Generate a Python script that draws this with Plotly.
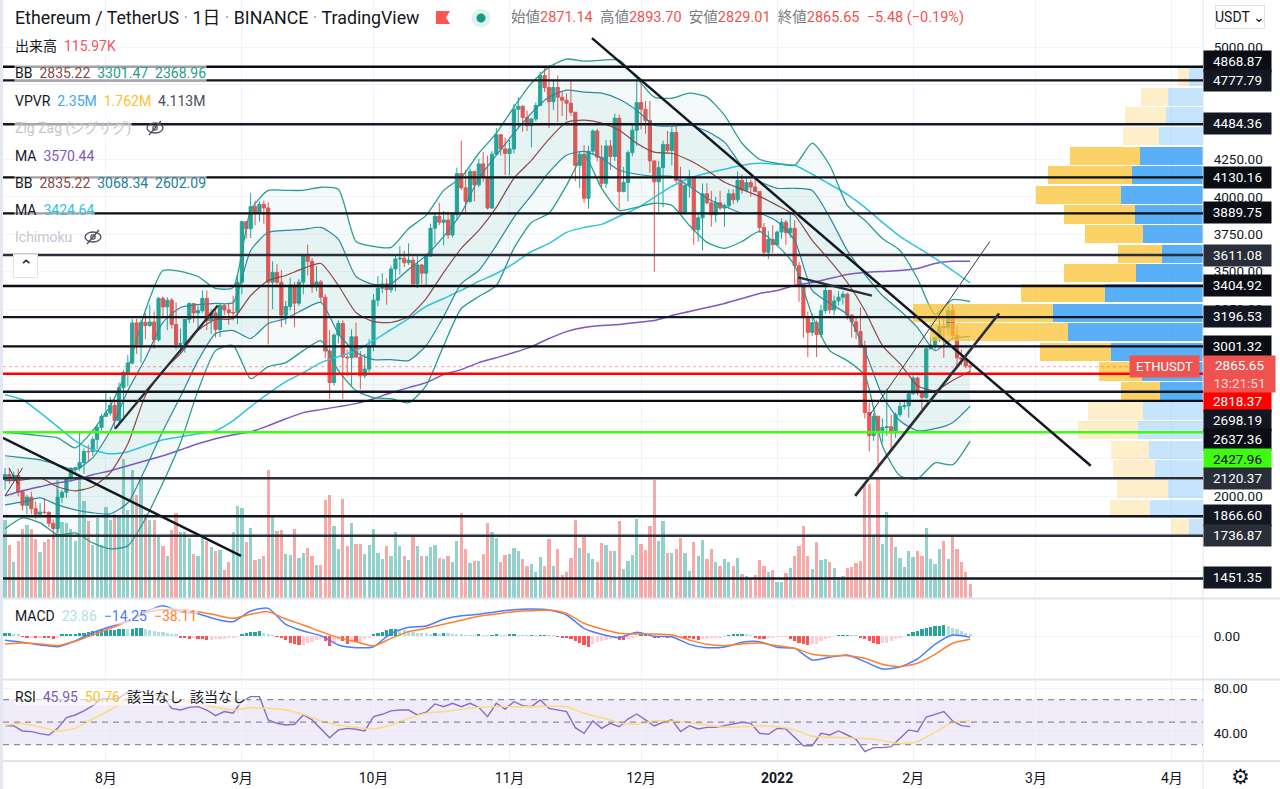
import pandas as pd
import plotly.graph_objects as go

# ---------- data ----------
closes = [2146,2115,2140,2030,1940,1994,1917,1880,1895,1892,1820,1785,1994,2027,2123,2187,2190,2226,2300,2298,2380,2460,2534,
 2556,2608,2506,2725,2827,2890,3158,3012,3163,3140,3164,3045,3322,3265,3310,3147,3014,3020,3182,3287,3225,3240,3322,3172,3225,3115,3274,3245,3226,3226,3430,
 3834,3787,3935,3888,3950,3926,3430,3495,3430,3210,3268,3410,3290,3430,3610,3570,3398,3432,3330,2970,2760,3077,3155,2930,2925,3065,2930,2805,2850,3000,
 3310,3390,3418,3380,3518,3585,3590,3560,3577,3420,3545,3490,3605,3790,3870,3830,3845,3745,3880,4155,4060,3970,4170,4080,4220,4130,3925,4285,4415,4320,4290,
 4320,4585,4605,4530,4475,4520,4610,4810,4730,4635,4730,4665,4645,4625,4565,4210,4285,3990,4305,4440,4265,4090,4340,4270,4525,4035,4095,4295,4445,4630,
 4585,4510,4240,4100,4195,4350,4310,4430,4110,3890,4075,4130,3780,3860,4020,3960,3880,3960,3925,3940,4020,3980,4110,4045,4095,4065,4035,3795,3630,3715,3680,
 3765,3830,3760,3790,3540,3410,3195,3095,3160,3080,3240,3375,3245,3305,3330,3350,3210,3165,3100,3000,2560,2405,2535,2440,2460,2465,2425,2545,2600,2605,2685,
 2790,2690,2660,2985,3010,3060,3135,3125,3240,3075,2925,2915,2871.14,2865.65]
highs = [2190,2190,2165,2185,2045,2010,2030,1965,1955,1990,1900,1845,2045,2045,2130,2195,2195,2430,2320,2345,2400,2480,2550,
 2700,2665,2630,2760,2845,2945,3185,3185,3180,3225,3280,3235,3330,3335,3330,3325,3295,3120,3185,3295,3290,3275,3375,3375,3250,3250,3285,3285,3290,3340,3475,
 3840,3840,4025,3975,3970,3975,3965,3570,3550,3510,3305,3460,3430,3450,3620,3680,3590,3540,3445,3350,3110,3090,3175,3175,2980,3115,3160,2970,2950,3050,
 3350,3470,3490,3455,3540,3615,3670,3640,3690,3600,3620,3550,3620,3820,3890,3960,3905,3900,3885,4195,4375,4180,4190,4170,4255,4300,4275,4305,4460,4420,4395,
 4380,4620,4665,4610,4575,4525,4630,4835,4870,4870,4780,4810,4705,4690,4775,4565,4300,4345,4340,4450,4455,4345,4380,4380,4555,4550,4200,4310,4490,4780,
 4780,4640,4640,4240,4240,4375,4440,4465,4490,4200,4085,4180,4130,3885,4090,4090,4040,4000,4040,3955,4050,4050,4170,4150,4125,4115,4125,4035,3825,3770,3810,
 3775,3855,3845,3900,3845,3565,3415,3235,3220,3175,3280,3415,3375,3340,3370,3370,3360,3215,3195,3260,3040,2625,2555,2455,2520,2720,2545,2560,2640,2645,2700,
 2815,2800,2700,3000,3060,3065,3190,3195,3270,3285,3140,2980,2950,2893.70]
lows = [2045,2085,2100,2000,1905,1880,1880,1850,1860,1880,1795,1715,1760,1955,1990,2095,2150,2170,2150,2230,2270,2315,2440,
 2550,2540,2450,2480,2530,2735,2880,2950,2890,3050,3130,2985,3035,3205,3110,3120,2980,2955,2960,3155,3160,3120,3225,3110,3085,3060,3065,3210,3145,3175,3150,
 3350,3720,3725,3810,3835,3820,3015,3250,3395,3130,3150,3240,3130,3270,3350,3475,3360,3370,3290,2920,2650,2740,3020,2650,2800,2740,2925,2715,2790,2830,
 2970,3270,3355,3280,3360,3370,3480,3530,3545,3405,3390,3420,3400,3600,3680,3810,3675,3720,3730,3840,4045,3890,3960,3970,4065,4100,3915,3920,4280,4275,4145,
 4145,4290,4460,4435,4440,4330,4505,4610,4700,4460,4580,4500,4540,4510,4540,4105,4060,3960,3920,4280,4235,4065,4060,4180,4240,3920,4030,3970,4270,4340,
 4450,4420,4160,3500,3900,3930,4290,4210,4090,3880,3880,3995,3680,3700,3640,3950,3800,3830,3910,3800,3920,3950,3960,4020,4030,4000,4030,3760,3600,3585,3625,
 3675,3720,3680,3725,3400,3300,3060,2930,3070,2930,3060,3220,3220,3210,3275,3280,3180,3060,3050,2990,2520,2300,2370,2160,2360,2405,2300,2390,2530,2580,2525,
 2680,2675,2580,2650,2980,2980,3030,2925,3080,3055,2855,2875,2855,2829.01]
first_open = 2110
volumes_k = [643,440,302,474,568,607,568,485,380,468,485,504,975,629,623,573,476,989,800,634,440,662,443,753,643,698,684,1155,726,1058,850,994,698,643,648,510,429,352,560,706,551,551,496,366,352,524,476,421,388,399,233,296,551,762,745,463,579,
 316,324,352,1064,684,554,560,366,360,568,330,371,413,352,277,277,809,856,596,407,823,429,620,449,449,366,443,573,371,324,427,352,546,427,352,316,512,429,352,346,421,
 443,330,324,352,302,474,706,407,288,310,305,366,620,551,496,296,360,366,413,393,324,269,283,213,343,269,490,269,407,191,213,330,648,418,504,371,324,296,454,440,393,393,634,241,305,357,656,446,399,596,975,476,640,371,374,407,499,374,227,468,346,479,324,407,296,263,324,296,266,330,197,180,158,194,316,266,219,235,136,136,205,252,352,435,593,352,244,463,319,324,296,247,177,186,247,260,288,307,
 946,946,504,989,449,712,526,421,332,255,388,338,393,352,582,324,283,402,476,324,504,407,296,213,115.97]
macd_hist = [30,30,25,18, -8,-12,-12,-15,-15,-18,-25,-30,-12, 12,18,22,28,35,40,50,55,60,70,72,72, 72,75,85,80,85,90,95,85,70, 60,50,42,35,25,15,
 -15,-25,-30,-28,-35,-38,-45, -42,-40,-35,-30,-25,-18,-10, 15,30,42,50,52,35, 18,8,-5, -25,-50,-75,-95,-105,-100,-85, -70,-45,-35, -60,-110,-75,-30,-60, -90,-60,-70,-65,-40,-20,
 15,30,50,65,75,85,80,65,55, 45,40,35,30,28,30,25,40,30,25,15,12, 10,8,5,15,5,3,10,12,8,5,15,18,10,5,3, 3,2,3,10,3,2,
 -8,-15,-25,-40,-60,-85,-105,-125,-95,-70, -60,-45,-30,-20,-45,-50,-35,-15,-10, 15,15,12, -25,-28, -10,-15,-12,-10,-8, -15,-22,-35, -45,-40, -30,-25,-20,-15,-10, 8,12,15,18,16,10,
 -15,-30,-32,-28, -12,-10,-8,-8, -30,-55,-75,-90,-100,-95,-90, -55,-40,-25,-10, 8,10,10,8,5, -20,-40,-60,-85,-90,-85, -75,-60,-40,-25,-10, 25,45,60,75,90,100,110,115,130, 115,95,75,60,40,23.86]

bb_outer_up = [2425,2418,2405,2391,2324,2438,2605,2853,3241,3508,3502,3468,3388,3395,3910,4043,4043,4043,4064,4050,3702,3669,3662,3789,3876,4043,4130,4291,4425,4599,4759,4866,4920,4906,4913,4913,4793,4666,4659,4692,4666,4545,4358,4251,4224,4211,4358,4211,3943,3843,3722,3642,3455,3214,3314,3301]
bb_inner_up = [2271,2258,2244,2211,2177,2258,2438,2706,2920,3161,3261,3281,3288,3294,3642,3763,3776,3783,3796,3716,3468,3415,3421,3515,3609,3736,3890,4124,4278,4425,4559,4666,4712,4699,4692,4652,4579,4478,4472,4478,4438,4365,4204,4104,4057,4057,4043,3863,3642,3482,3341,3241,3127,2973,3054,3068]
bb_basis = [2104,2110,2124,2064,2037,2064,2157,2351,2672,2839,2953,3107,3181,3187,3341,3441,3475,3522,3555,3408,3228,3167,3161,3201,3321,3495,3656,3776,3930,4124,4244,4385,4498,4512,4492,4445,4358,4298,4291,4244,4177,4097,4050,4003,3943,3876,3709,3575,3428,3241,3007,2886,2739,2706,2773,2835]
bb_inner_lo = [1943,1963,1990,1943,1910,1890,1883,1957,2184,2438,2666,2906,3087,3107,3054,3154,3187,3247,3294,3087,2960,2913,2913,2906,3007,3201,3421,3508,3676,3863,4010,4164,4278,4304,4258,4177,4151,4137,4137,4070,3990,3937,3890,3890,3836,3709,3375,3288,3214,2973,2672,2505,2438,2452,2492,2602]
bb_outer_lo = [1783,1856,1823,1743,1756,1689,1649,1669,1850,2090,2358,2706,2973,3007,2786,2866,2893,2973,3040,2839,2706,2659,2652,2625,2739,3007,3254,3334,3408,3656,3829,3890,4077,4278,4057,3910,3930,3957,3943,3809,3696,3656,3702,3769,3676,3542,3207,2973,2906,2806,2338,2137,2117,2224,2211,2369]
ma_cyan = [2679,2645,2559,2465,2371,2311,2284,2298,2338,2378,2398,2418,2438,2505,2599,2686,2766,2826,2893,2933,2973,3040,3114,3187,3268,3321,3375,3435,3488,3555,3635,3689,3763,3796,3816,3870,3923,3997,4070,4124,4157,4184,4211,4224,4218,4211,4151,4084,4017,3930,3829,3736,3662,3589,3508,3425]
ma_purple = [2003,2037,2064,2090,2110,2144,2171,2204,2238,2271,2311,2351,2385,2411,2431,2472,2518,2559,2579,2599,2619,2652,2692,2726,2759,2813,2846,2893,2926,2960,3000,3054,3100,3127,3140,3147,3161,3174,3207,3234,3261,3288,3321,3355,3375,3408,3428,3455,3482,3495,3502,3508,3522,3555,3569,3570]
macd_line = [-50,-73,-103,-123,-57,38,107,172,280,349,280,257,195,165,287,318,134,57,4,-103,-134,-123,31,100,115,192,234,249,280,303,310,299,241,88,19,-19,42,-4,-8,-96,-134,-126,-73,-65,-130,-142,-276,-245,-218,-295,-379,-356,-264,-96,11,-14]
macd_signal = [-92,-80,-92,-111,-61,11,88,165,264,303,303,280,241,203,249,280,195,126,50,-19,-65,-115,-27,50,88,134,180,226,253,280,291,299,260,146,80,31,23,23,11,-46,-96,-111,-92,-80,-111,-142,-211,-230,-226,-257,-326,-352,-314,-211,-84,-38]
rsi_line = [46.8,46.5,42.1,41.5,39.7,38.5,44.4,53.9,56.3,59.9,64.6,70.5,70.5,71.1,77.0,78.2,75.9,74.1,72.6,62.2,60.7,63.1,63.7,60.7,55.7,59.3,57.8,68.7,72.6,72.6,51.9,48.9,47.4,48.0,56.3,51.9,44.4,36.1,43.0,44.4,43.6,42.1,54.8,56.9,59.9,60.7,60.7,56.3,58.7,66.1,63.7,66.7,63.7,66.7,63.1,54.8,66.7,61.6,68.1,64.6,63.7,69.6,62.2,60.7,59.3,45.0,40.0,51.0,44.4,48.9,45.9,52.7,57.2,
 51.9,46.5,49.8,51.9,41.5,46.8,43.9,45.3,45.3,46.8,48.9,49.8,48.9,40.0,39.1,44.4,43.9,36.1,29.0,29.0,40.0,38.5,42.1,38.5,34.7,23.7,27.3,27.3,28.1,35.6,43.0,41.5,54.5,56.9,59.3,51.0,46.8,45.95]
rsi_ma = [47.1,48.6,45.6,42.1,44.4,52.7,60.7,70.5,73.2,74.1,70.2,66.7,63.1,60.7,62.8,62.2,60.7,56.9,51.0,47.4,45.3,43.9,47.4,53.3,57.8,59.3,61.3,63.1,63.7,63.7,63.7,64.0,63.7,57.8,53.9,49.5,48.0,
 51.0,50.7,49.5,47.4,45.3,45.9,46.5,45.9,43.0,37.3,36.4,36.1,35.3,33.5,30.8,32.6,40.9,49.8,50.76]

vp_price = [4799,4668,4537,4406,4275,4144,4013,3882,3751,3620,3489,3358,3227,3096,2965,2834,2703,2572,2441,2310,2179,2048,1917,1786]
vp_up = [.20,.50,.52,.62,.90,1.01,1.16,.96,.85,.58,.95,1.39,2.13,1.91,1.30,.86,.61,.85,.92,.77,.68,.50,.75,.20]
vp_down = [.15,.38,.59,.52,.99,1.19,1.21,1.01,.82,.62,1.02,1.19,1.99,1.96,1.01,.62,.55,.78,.86,.54,.60,.72,.57,.26]
vp_in_value_area = [0,0,0,0,1,1,1,1,1,1,1,1,1,1,1,1,1,0,0,0,0,0,0,0]

levels = [4868.87,4777.79,4484.36,4130.16,3889.75,3611.08,3404.92,3196.53,3001.32,2818.37,2698.19,2637.36,2427.96,2120.37,1866.60,1736.87,1451.35]
level_colors = ['#0b0d14','#131722','#131722','#0b0d14','#0b0d14','#2a2e39','#0b0d14','#131722','#0b0d14','#ff0000','#131722','#0b0d14','#3dfc10','#2a2e39','#131722','#2a2e39','#131722']
level_text = ['#ffffff']*12 + ['#000000'] + ['#ffffff']*4
level_label_y = [61,81,124,177,213,255,285,316.7,346,401,420.5,440,459,478,515.5,535,577.5]

price_ticks = [1500,1750,2000,2250,2500,2750,3000,3250,3500,3750,4000,4250,4500,4750,5000]
price_tick_labels = ['1500.00','','2000.00','','','','','3250.00','3500.00','3750.00','4000.00','4250.00','','','5000.00']
# trend lines: start day index, start price, end day index, end price, width, colour
trend_lines = [(133.8,5060,247.5,2204,2.5,'#131722'),(-0.5,2391,53.8,1602,2.5,'#131722'),(25.1,2451,48.5,3274,2.3,'#2a2e39'),
 (193.8,2003,226.6,3221,2.7,'#2a2e39'),(197,2538,224.5,3702,1,'#3a3d45'),(180.8,3462,197.6,3341,2.3,'#2a2e39'),
 (0,2003,4,2190,1,'#3a3d45'),(0.9,2190,3,2080,1,'#3a3d45')]
month_ticks = ['2021-08-01','2021-09-01','2021-10-01','2021-11-01','2021-12-01','2022-01-01','2022-02-01','2022-03-01','2022-04-01']
month_labels = ['8月','9月','10月','11月','12月','<b>2022</b>','2月','3月','4月']

assert len(closes)==len(highs)==len(lows)==len(volumes_k)==len(macd_hist)==221, (len(closes),len(highs),len(lows),len(volumes_k),len(macd_hist))
for a in (bb_outer_up,bb_inner_up,bb_basis,bb_inner_lo,bb_outer_lo,ma_cyan,ma_purple,macd_line,macd_signal,rsi_ma):
    assert len(a)==56, len(a)
assert len(rsi_line)==111, len(rsi_line)

# ---------- derived ----------
dates = pd.date_range('2021-07-09', periods=221, freq='D')
knot_dates = dates[::4]
rsi_dates = dates[::2]
opens = [first_open]+closes[:-1]
UP, DOWN = '#26a69a', '#ef5350'
FONT = 'Roboto, "Noto Sans CJK JP", sans-serif'
W, H = 1280, 789
px = lambda x: x/W
py = lambda y: 1-y/H
day = lambda d: pd.Timestamp('2021-07-09')+pd.Timedelta(days=d)

fig = go.Figure()
vol_colors = ['rgba(38,166,154,.5)' if c>=o else 'rgba(239,83,80,.5)' for c,o in zip(closes,opens)]
fig.add_trace(go.Bar(x=dates,y=volumes_k,marker=dict(color=vol_colors,line_width=0),width=86400000*0.74,xaxis='x',yaxis='y'))

def band(up,lo,fill):
    fig.add_trace(go.Scatter(x=knot_dates,y=up,mode='lines',line=dict(color='rgba(0,0,0,0)',width=0),xaxis='x',yaxis='y4'))
    fig.add_trace(go.Scatter(x=knot_dates,y=lo,mode='lines',line=dict(color='rgba(0,0,0,0)',width=0),fill='tonexty',fillcolor=fill,xaxis='x',yaxis='y4'))
band(bb_outer_up,bb_outer_lo,'rgba(38,166,154,.055)')
band(bb_inner_up,bb_inner_lo,'rgba(34,128,154,.06)')
for series,col,w in [(ma_purple,'#7e57c2',1.5),(ma_cyan,'#2fc4dc',1.5),(bb_outer_up,'#2a9d8f',1.3),(bb_outer_lo,'#2a9d8f',1.3),
                     (bb_inner_up,'#2b8aa0',1.2),(bb_inner_lo,'#2b8aa0',1.2),(bb_basis,'#8d4a46',1.2)]:
    fig.add_trace(go.Scatter(x=knot_dates,y=series,mode='lines',line=dict(color=col,width=w,shape='spline',smoothing=0.6),xaxis='x',yaxis='y4'))
fig.add_trace(go.Candlestick(x=dates,open=opens,high=highs,low=lows,close=closes,xaxis='x',yaxis='y4',
    increasing=dict(line=dict(color=UP,width=1),fillcolor=UP),decreasing=dict(line=dict(color=DOWN,width=1),fillcolor=DOWN),whiskerwidth=0))
up_c = ['rgba(33,150,243,.75)' if f else 'rgba(33,150,243,.26)' for f in vp_in_value_area]
dn_c = ['rgba(251,192,45,.72)' if f else 'rgba(251,192,45,.25)' for f in vp_in_value_area]
fig.add_trace(go.Bar(y=vp_price,x=vp_up,orientation='h',width=121,marker=dict(color=up_c,line_width=0),xaxis='x4',yaxis='y4'))
fig.add_trace(go.Bar(y=vp_price,x=vp_down,orientation='h',width=121,marker=dict(color=dn_c,line_width=0),xaxis='x4',yaxis='y4'))

hist_colors=[]
for k,v in enumerate(macd_hist):
    prev = macd_hist[k-1] if k else v
    hist_colors.append(('#26a69a' if v>=prev else '#b2dfdb') if v>=0 else ('#ff5252' if v<prev else '#ffcdd2'))
fig.add_trace(go.Bar(x=dates,y=macd_hist,marker=dict(color=hist_colors,line_width=0),width=86400000*0.74,xaxis='x2',yaxis='y2'))
fig.add_trace(go.Scatter(x=knot_dates,y=macd_line,mode='lines',line=dict(color='#4a7dff',width=1.5,shape='spline',smoothing=0.6),xaxis='x2',yaxis='y2'))
fig.add_trace(go.Scatter(x=knot_dates,y=macd_signal,mode='lines',line=dict(color='#ff7f2a',width=1.5,shape='spline',smoothing=0.6),xaxis='x2',yaxis='y2'))
fig.add_trace(go.Scatter(x=rsi_dates,y=rsi_line,mode='lines',line=dict(color='#8c6bc8',width=1.4),xaxis='x3',yaxis='y3'))
fig.add_trace(go.Scatter(x=knot_dates,y=rsi_ma,mode='lines',line=dict(color='#fbdc7a',width=1.5,shape='spline',smoothing=0.6),xaxis='x3',yaxis='y3'))

shapes=[]
# panes
for y in (598.5,679.5,761):
    shapes.append(dict(type='line',xref='paper',yref='paper',x0=0,x1=1,y0=py(y),y1=py(y),line=dict(color='#e0e3eb',width=2)))
shapes.append(dict(type='rect',xref='paper',yref='paper',x0=0,x1=px(3),y0=0,y1=1,fillcolor='#e4e6f2',line_width=0))
shapes.append(dict(type='line',xref='paper',yref='paper',x0=px(1203),x1=px(1203),y0=0,y1=1,line=dict(color='#e0e3eb',width=1)))
# RSI band
shapes.append(dict(type='rect',xref='x3 domain',yref='y3',x0=0,x1=1,y0=30,y1=70,fillcolor='rgba(126,87,194,.12)',line_width=0,layer='below'))
for v in (70,50,30):
    shapes.append(dict(type='line',xref='x3 domain',yref='y3',x0=0,x1=1,y0=v,y1=v,line=dict(color='#8b8e99',width=1.2,dash='6px 5px')))
# current price dotted
shapes.append(dict(type='line',xref='x domain',yref='y4',x0=0,x1=1,y0=closes[-1],y1=closes[-1],line=dict(color='rgba(239,83,80,.55)',width=1,dash='dot')))
# horizontal levels
for lv,c in zip(levels,level_colors):
    shapes.append(dict(type='line',xref='x domain',yref='y4',x0=0,x1=1,y0=lv,y1=lv,line=dict(color=c,width=2.4)))
for d0,p0,d1,p1,w,c in trend_lines:
    shapes.append(dict(type='line',xref='x',yref='y4',x0=day(d0),x1=day(d1),y0=p0,y1=p1,line=dict(color=c,width=w)))
# flag, status dot, eye icons
fig_path = 'M %f,%f L %f,%f L %f,%f L %f,%f L %f,%f Z' % (px(436),py(11),px(450),py(11),px(446),py(17.5),px(450),py(24),px(436),py(24))
shapes.append(dict(type='path',xref='paper',yref='paper',path=fig_path,fillcolor='#ff5252',line_width=0))
def circle(cx,cy,r,fill,line=None):
    shapes.append(dict(type='circle',xref='paper',yref='paper',x0=px(cx-r),x1=px(cx+r),y0=py(cy-r),y1=py(cy+r),fillcolor=fill,
                       line=dict(color=line or 'rgba(0,0,0,0)',width=1.2 if line else 0)))
circle(481,18,9.5,'rgba(38,166,154,.15)')
circle(481,18,4.5,'#169a84')
for ex,ey in ((155,128),(93,237)):
    shapes.append(dict(type='circle',xref='paper',yref='paper',x0=px(ex-8),x1=px(ex+8),y0=py(ey-5),y1=py(ey+5),fillcolor='rgba(0,0,0,0)',line=dict(color='#4a4e59',width=1.3)))
    circle(ex,ey,2.2,'rgba(0,0,0,0)','#4a4e59')
    shapes.append(dict(type='line',xref='paper',yref='paper',x0=px(ex-6),x1=px(ex+6),y0=py(ey+7),y1=py(ey-7),line=dict(color='#4a4e59',width=1.3)))

ann=[]
def text(x,y,t,size=14,color='#131722',anchor='left',bg=None,**kw):
    ann.append(dict(xref='paper',yref='paper',x=px(x),y=py(y),text=t,showarrow=False,xanchor=anchor,yanchor='middle',
                    align=anchor,font=dict(family=FONT,size=size,color=color),bgcolor=bg,borderpad=0,**kw))
sp = lambda c,t: f'<span style="color:{c}">{t}</span>'
RB='rgba(255,255,255,.62)'
text(13.5,17.5,'Ethereum / TetherUS <span style="color:#a0a3ad">·</span> 1日 <span style="color:#a0a3ad">·</span> BINANCE <span style="color:#a0a3ad">·</span> TradingView',size=17.8)
R='#ef5350'; G='#787b86'
text(510,17,sp(G,'始値')+sp(R,'2871.14')+'  '+sp(G,'高値')+sp(R,'2893.70')+'  '+sp(G,'安値')+sp(R,'2829.01')+'  '+sp(G,'終値')+sp(R,'2865.65  −5.48 (−0.19%)'),size=14.5)
text(13.5,46,'出来高  '+sp('#f7525f','115.97K'),bg=RB)
text(13.5,73.5,'BB  '+sp('#8d4a46','2835.22')+'  '+sp('#1f9d8f','3301.47')+'  '+sp('#1f9d8f','2368.96'),bg=RB)
text(13.5,101,'VPVR  '+sp('#42a5f5','2.35M')+'  '+sp('#fbc02d','1.762M')+'  '+sp('#4a4e59','4.113M'),bg=RB)
text(13.5,128,sp('#c4c6cd','Zig Zag (ジグザグ)'),bg=RB)
text(13.5,155.5,'MA  '+sp('#7e57c2','3570.44'),bg=RB)
text(13.5,183,'BB  '+sp('#8d4a46','2835.22')+'  '+sp('#22809a','3068.34')+'  '+sp('#22809a','2602.09'),bg=RB)
text(13.5,210,'MA  '+sp('#2fc4dc','3424.64'),bg=RB)
text(13.5,237,sp('#c4c6cd','Ichimoku'),bg=RB)
text(25.5,266,'⌃',size=17,anchor='center',width=23,height=22,bordercolor='#e0e3eb',borderwidth=1,bg='#ffffff')
text(13.5,616,'MACD  '+sp('#b2dfdb','23.86')+'  '+sp('#4a7dff','−14.25')+'  '+sp('#ff7f2a','−38.11'),bg=RB)
text(13.5,697,'RSI  '+sp('#7e57c2','45.95')+'  '+sp('#fbc02d','50.76')+'  該当なし  該当なし',bg=RB)
text(1239.5,17,'USDT ⌄',size=14,anchor='center',width=48,height=22,bordercolor='#e0e3eb',borderwidth=1,bg='#ffffff')
text(1240,777,'⚙',size=21,color='#131722',anchor='center')
# price labels
for lv,c,tc,ly in zip(levels,level_colors,level_text,level_label_y):
    ann.append(dict(xref='paper',yref='paper',x=px(1203),y=py(ly),xanchor='left',yanchor='middle',text=f'{lv:.2f}',showarrow=False,
                    width=65,height=18.5,bgcolor=c,font=dict(family=FONT,size=13.5,color=tc),align='center'))
ann.append(dict(xref='paper',yref='paper',x=px(1203),y=py(374),xanchor='left',yanchor='middle',showarrow=False,width=69,height=34,bgcolor='#ef5350',
                text=f'{closes[-1]:.2f}<br><span style="color:#fbd5d4">13:21:51</span>',font=dict(family=FONT,size=13.5,color='#ffffff'),align='center'))
ann.append(dict(xref='paper',yref='paper',x=px(1200),y=py(366),xanchor='right',yanchor='middle',showarrow=False,width=67,height=19,bgcolor='#ef5350',
                text='ETHUSDT',font=dict(family=FONT,size=13,color='#ffffff'),align='center'))

xrange = [day(-0.456),day(273.08)]
xbase = dict(type='date',range=xrange,domain=[px(3),px(1203)],showgrid=True,gridcolor='#f0f3fa',gridwidth=1,zeroline=False,
             tickvals=month_ticks,ticktext=month_labels,showline=False,ticks='')
yticks = dict(family=FONT,size=13.5,color='#131722')
fig.update_layout(
    width=W,height=H,autosize=False,margin=dict(l=0,r=0,t=0,b=0),paper_bgcolor='#ffffff',plot_bgcolor='#ffffff',
    showlegend=False,barmode='stack',bargap=0,boxgap=0.28,boxgroupgap=0,hovermode=False,
    xaxis=dict(xbase,anchor='y',showticklabels=False,rangeslider=dict(visible=False)),
    xaxis2=dict(xbase,anchor='y2',showticklabels=False),
    xaxis3=dict(xbase,anchor='y3',ticks='outside',ticklen=5,tickcolor='rgba(0,0,0,0)',tickfont=dict(family=FONT,size=14,color='#131722')),
    xaxis4=dict(domain=[px(3),px(1203)],anchor='y4',overlaying='x',range=[17.02,0],visible=False,showgrid=False,zeroline=False),
    yaxis=dict(domain=[py(598),1],anchor='x',range=[0,4955],visible=False,showgrid=False,zeroline=False),
    yaxis4=dict(domain=[py(598),1],anchor='x',overlaying='y',side='right',range=[1321.05,5314.4],tickvals=price_ticks,
                ticktext=price_tick_labels,gridcolor='rgba(224,227,235,.35)',zeroline=False,ticks='outside',ticklen=7,tickcolor='rgba(0,0,0,0)',tickfont=yticks,showline=False),
    yaxis2=dict(domain=[py(678),py(600)],anchor='x2',side='right',range=[-483,414],tickvals=[0],ticktext=['0.00'],gridcolor='#f0f3fa',zeroline=False,
                ticks='outside',ticklen=7,tickcolor='rgba(0,0,0,0)',tickfont=yticks,showline=False),
    yaxis3=dict(domain=[py(760),py(681)],anchor='x3',side='right',range=[16.27,86.5],tickvals=[40,80],ticktext=['40.00','80.00'],gridcolor='#f0f3fa',zeroline=False,
                ticks='outside',ticklen=7,tickcolor='rgba(0,0,0,0)',tickfont=yticks,showline=False),
    shapes=shapes,annotations=ann,
)
fig.write_html('out.html',config=dict(displayModeBar=False),post_script="document.body.style.margin='0';document.body.style.overflow='hidden';")
